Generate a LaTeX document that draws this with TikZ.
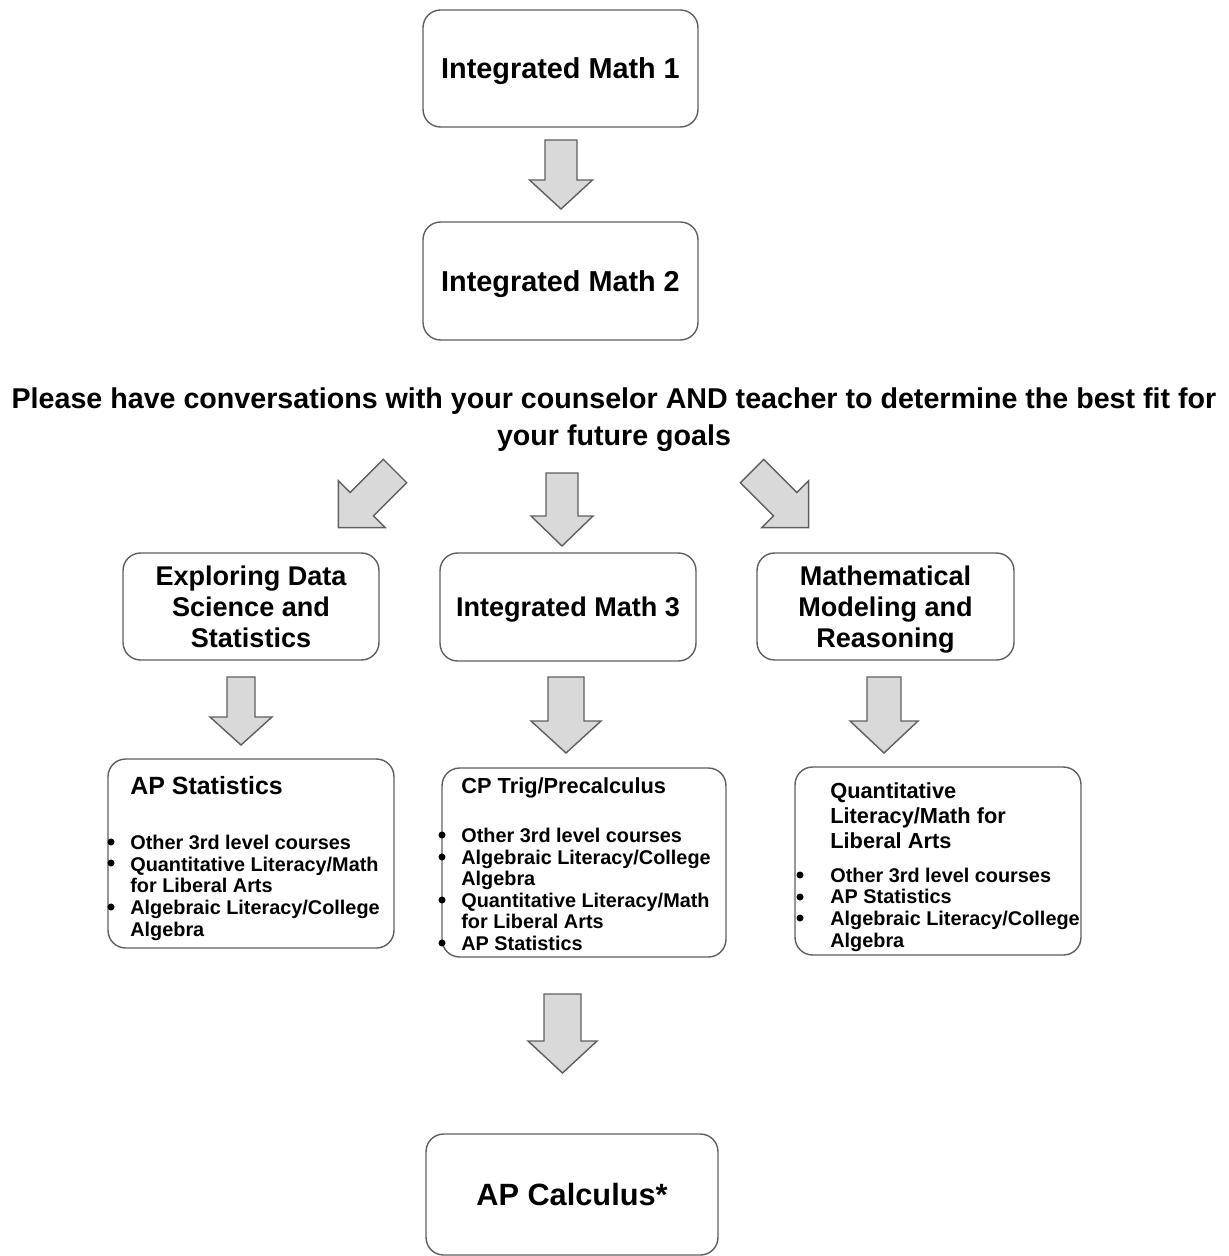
\documentclass[tikz,border=0pt]{standalone}
\usepackage{fontspec}
\setmainfont{Liberation Sans}
\definecolor{edgegray}{HTML}{5F5F5F}
\definecolor{arrowgray}{HTML}{D9D9D9}
% block arrow: tail, angle, length, head length, half shaft, half head
\newcommand{\fatarrow}[6]{\filldraw[flow, shift={(#1)}, rotate=#2] (-#5,0) -- (#5,0) -- (#5,#3-#4) -- (#6,#3-#4) -- (0,#3) -- (-#6,#3-#4) -- (-#5,#3-#4) -- cycle;}

\begin{document}
\begin{tikzpicture}[x=0.02cm, y=-0.02cm, box/.style={draw=edgegray, line width=0.8pt, rounded corners=10pt, fill=white, align=center, inner sep=0pt}, flow/.style={draw=edgegray, line width=0.8pt, fill=arrowgray}, big/.style={font=\bfseries\fontsize{16.4}{20}\selectfont, text depth=0pt}, mid/.style={font=\bfseries\fontsize{15.4}{17.6}\selectfont}, sub/.style={font=\bfseries\fontsize{12.4}{14.2}\selectfont, align=left, inner sep=0pt, anchor=base west}, lst/.style={font=\bfseries\fontsize{11.3}{12.3}\selectfont, align=left, inner sep=0pt, anchor=base west}]

\useasboundingbox (0,0) rectangle (1228,1256);

% first two years
\node[box, big, minimum width=5.5cm, minimum height=2.34cm] (im1) at (560.5,68.5) {Integrated Math 1};
\fatarrow{561,140}{0}{69}{29}{16}{31.5}
\node[box, big, minimum width=5.5cm, minimum height=2.36cm] (im2) at (560.5,281) {Integrated Math 2};

% base anchor sits on the last line
\node[font=\bfseries\fontsize{16.3}{21}\selectfont, align=center, anchor=base, inner sep=0pt] (advice) at (614,445) {Please have conversations with your counselor AND teacher to determine the best fit for\\your future goals};

% third year
\fatarrow{395,471}{-45}{80}{33}{16.5}{33}
\fatarrow{562,473}{0}{73}{30}{16}{31}
\fatarrow{752,471}{45}{80}{33}{16.5}{33}
\node[box, mid, minimum width=5.12cm, minimum height=2.14cm] (eds) at (251,606.5) {Exploring Data\\Science and\\Statistics};
\node[box, mid, text depth=0pt, minimum width=5.12cm, minimum height=2.16cm] (im3) at (568,607) {Integrated Math 3};
\node[box, mid, text depth=0pt, minimum width=5.14cm, minimum height=2.14cm] (mmr) at (885.5,606.5) {Mathematical\\Modeling and\\Reasoning};

% fourth year
\fatarrow{241,677}{0}{68}{28}{14}{31}
\fatarrow{566,677}{0}{76}{32}{18}{35}
\fatarrow{884,677}{0}{76}{32}{17}{34}

\node[box, minimum width=5.72cm, minimum height=3.78cm] (aps) at (251,853.5) {};
\node[sub, font=\bfseries\fontsize{14.2}{16}\selectfont] (apst) at (130,794) {AP Statistics};
\node[lst] (apsl) at (130,936) {Other 3rd level courses\\Quantitative Literacy/Math\\for Liberal Arts\\Algebraic Literacy/College\\Algebra};
\fill (111,842) circle (2pt);
\fill (111,863) circle (2pt);
\fill (111,907) circle (2pt);

\node[box, minimum width=5.68cm, minimum height=3.78cm] (cp) at (584,862.5) {};
\node[sub] (cpt) at (461,793) {CP Trig/Precalculus};
\node[lst] (cpl) at (461,950.5) {Other 3rd level courses\\Algebraic Literacy/College\\Algebra\\Quantitative Literacy/Math\\for Liberal Arts\\AP Statistics};
\fill (442,835) circle (2pt);
\fill (442,857) circle (2pt);
\fill (442,900) circle (2pt);
\fill (442,943) circle (2pt);

\node[box, minimum width=5.72cm, minimum height=3.76cm] (ql) at (938,861) {};
\node[sub] (qlt) at (830,848) {Quantitative\\Literacy/Math for\\Liberal Arts};
\node[lst] (qll) at (830,947) {Other 3rd level courses\\AP Statistics\\Algebraic Literacy/College\\Algebra};
\fill (800,875) circle (2pt);
\fill (800,897) circle (2pt);
\fill (800,918) circle (2pt);

% calculus
\fatarrow{562.5,994}{0}{79}{32}{18.5}{34.5}
\node[box, font=\bfseries\fontsize{17.5}{21}\selectfont, text depth=0pt, minimum width=5.84cm, minimum height=2.42cm] (calc) at (572,1194.5) {AP Calculus*};
\end{tikzpicture}
\end{document}
